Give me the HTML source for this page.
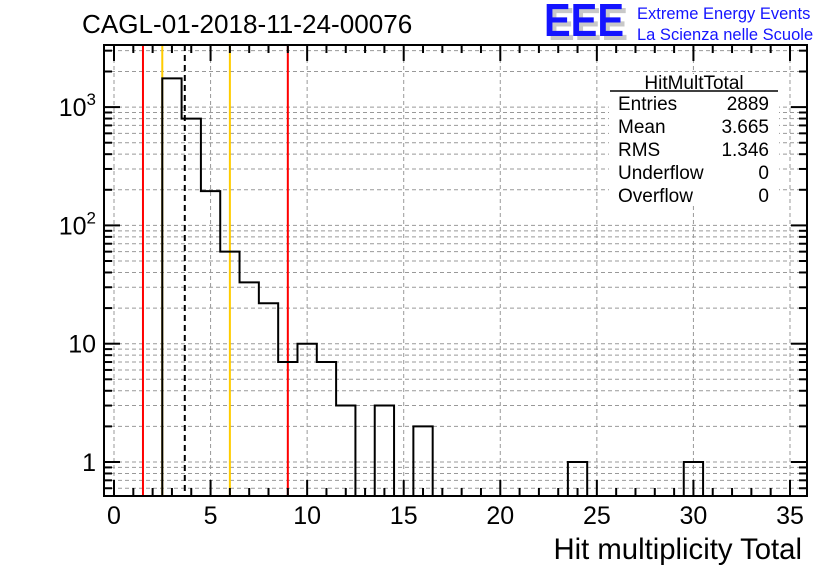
<!DOCTYPE html>
<html><head><meta charset="utf-8"><style>
body{margin:0;background:#fff;width:836px;height:572px;overflow:hidden}
svg{display:block;font-family:"Liberation Sans",sans-serif}
</style></head><body>
<svg id="c" width="836" height="572">
<text x="82" y="33" font-size="26.1">CAGL-01-2018-11-24-00076</text>
<g>
<text x="548" y="40" font-size="46" font-weight="bold" fill="#c8c8c8" textLength="80" lengthAdjust="spacingAndGlyphs">EEE</text>
<text x="544" y="36" font-size="46" font-weight="bold" fill="#1414ff" textLength="80" lengthAdjust="spacingAndGlyphs">EEE</text>
<text x="637" y="19" font-size="16.5" fill="#1414ff">Extreme Energy Events</text>
<text x="637" y="40" font-size="16.5" fill="#1414ff">La Scienza nelle Scuole</text>
</g>
<g id="grid"></g><g id="lines"></g><g id="marks"></g><g id="axes"></g>
<g>
<rect x="609" y="74" width="170" height="132" fill="#fff"/>
<text x="694" y="89" font-size="19" text-anchor="middle">HitMultTotal</text>
<line x1="610" y1="91" x2="778" y2="91" stroke="#000" stroke-width="1.5"/>
<g font-size="19">
<text x="618" y="110">Entries</text><text x="769" y="110" text-anchor="end">2889</text>
<text x="618" y="133">Mean</text><text x="769" y="133" text-anchor="end">3.665</text>
<text x="618" y="156">RMS</text><text x="769" y="156" text-anchor="end">1.346</text>
<text x="618" y="179">Underflow</text><text x="769" y="179" text-anchor="end">0</text>
<text x="618" y="202">Overflow</text><text x="769" y="202" text-anchor="end">0</text>
</g></g>
<text x="802" y="559" font-size="29.3" text-anchor="end">Hit multiplicity Total</text>
</svg>
<script>
const binCenters=[3,4,5,6,7,8,9,10,11,12,13,14,15,16,24,30];
const binCounts=[1750,800,195,60,33,22,7,10,7,3,0,3,0,2,1,1];
const xTicks=[0,5,10,15,20,25,30,35];
const yDecades=[1,10,100,1000];
const vLinesRed=[1.5,9.0];
const vLinesYellow=[2.5,6.0];
const meanVal=3.665;
const L=104,R=807,T=45,B=496;
const X=v=>114+v*19.314;
const Y=v=>462-Math.log10(v)*118.3;
const NS='http://www.w3.org/2000/svg';
function mk(p,t,a){const e=document.createElementNS(NS,t);for(const k in a)e.setAttribute(k,a[k]);p.appendChild(e);return e;}
const grid=document.getElementById('grid'),lines=document.getElementById('lines'),marks=document.getElementById('marks'),axes=document.getElementById('axes');
xTicks.forEach(v=>{const g=mk(grid,'line',{x1:X(v),x2:X(v),y1:T,y2:B,stroke:'#999','stroke-dasharray':'4,3','stroke-width':1});

});
for(let d=0.1;d<=1000;d*=10){for(let m=1;m<10;m++){const v=d*m;const y=Y(v);if(y<T||y>B)continue;
const g=mk(grid,'line',{x1:L,x2:R,y1:y,y2:y,stroke:'#999','stroke-dasharray':'4,3','stroke-width':1});


const len=m===1?16:8;
const t1=mk(axes,'line',{x1:L,x2:L+len,y1:y,y2:y,stroke:'#000','stroke-width':2});


const t2=mk(axes,'line',{x1:R-len,x2:R,y1:y,y2:y,stroke:'#000','stroke-width':2});

}}
vLinesRed.forEach(v=>{const l=mk(lines,'line',{x1:X(v),x2:X(v),y1:T,y2:B,stroke:'#f00','stroke-width':2});

});
vLinesYellow.forEach(v=>{const l=mk(lines,'line',{x1:X(v),x2:X(v),y1:T,y2:B,stroke:'#fc0','stroke-width':2});

});
const ml=mk(lines,'line',{x1:X(meanVal),x2:X(meanVal),y1:T,y2:B,stroke:'#000','stroke-width':2,'stroke-dasharray':'6,4'});


// step outline
const cnt={};binCenters.forEach((c,i)=>cnt[c]=binCounts[i]);
const lo=Math.min(...binCenters),hi=Math.max(...binCenters);
const yOf=c=>(cnt[c]||0)>0?Y(cnt[c]):B;
let d='M'+X(lo-0.5)+','+B;
for(let c=lo;c<=hi;c++){const y=yOf(c);d+=' L'+X(c-0.5)+','+y+' L'+X(c+0.5)+','+y;}
d+=' L'+X(hi+0.5)+','+B;
const h=mk(marks,'path',{d:d,fill:'none',stroke:'#000','stroke-width':2});


const fr=mk(axes,'rect',{x:L,y:T,width:R-L,height:B-T,fill:'none',stroke:'#000','stroke-width':2});


for(let v=0;v<=35.5;v+=1){const x=X(v);const len=v%5===0?16:8;
const t=mk(axes,'line',{x1:x,x2:x,y1:B-len,y2:B,stroke:'#000','stroke-width':2});


const t2=mk(axes,'line',{x1:x,x2:x,y1:T,y2:T+len,stroke:'#000','stroke-width':2});

}
xTicks.forEach(v=>{const t=mk(axes,'text',{x:X(v),y:524,'font-size':25,'text-anchor':'middle'});t.textContent=v;

});
yDecades.forEach((v,i)=>{const t=mk(axes,'text',{x:96,y:Y(v)+9,'font-size':25,'text-anchor':'end'});
if(v>=100){t.textContent='10';const s=mk(t,'tspan',{dy:-11,'font-size':17});s.textContent=String(Math.round(Math.log10(v)));}else t.textContent=String(v);

});
</script>
</body></html>
